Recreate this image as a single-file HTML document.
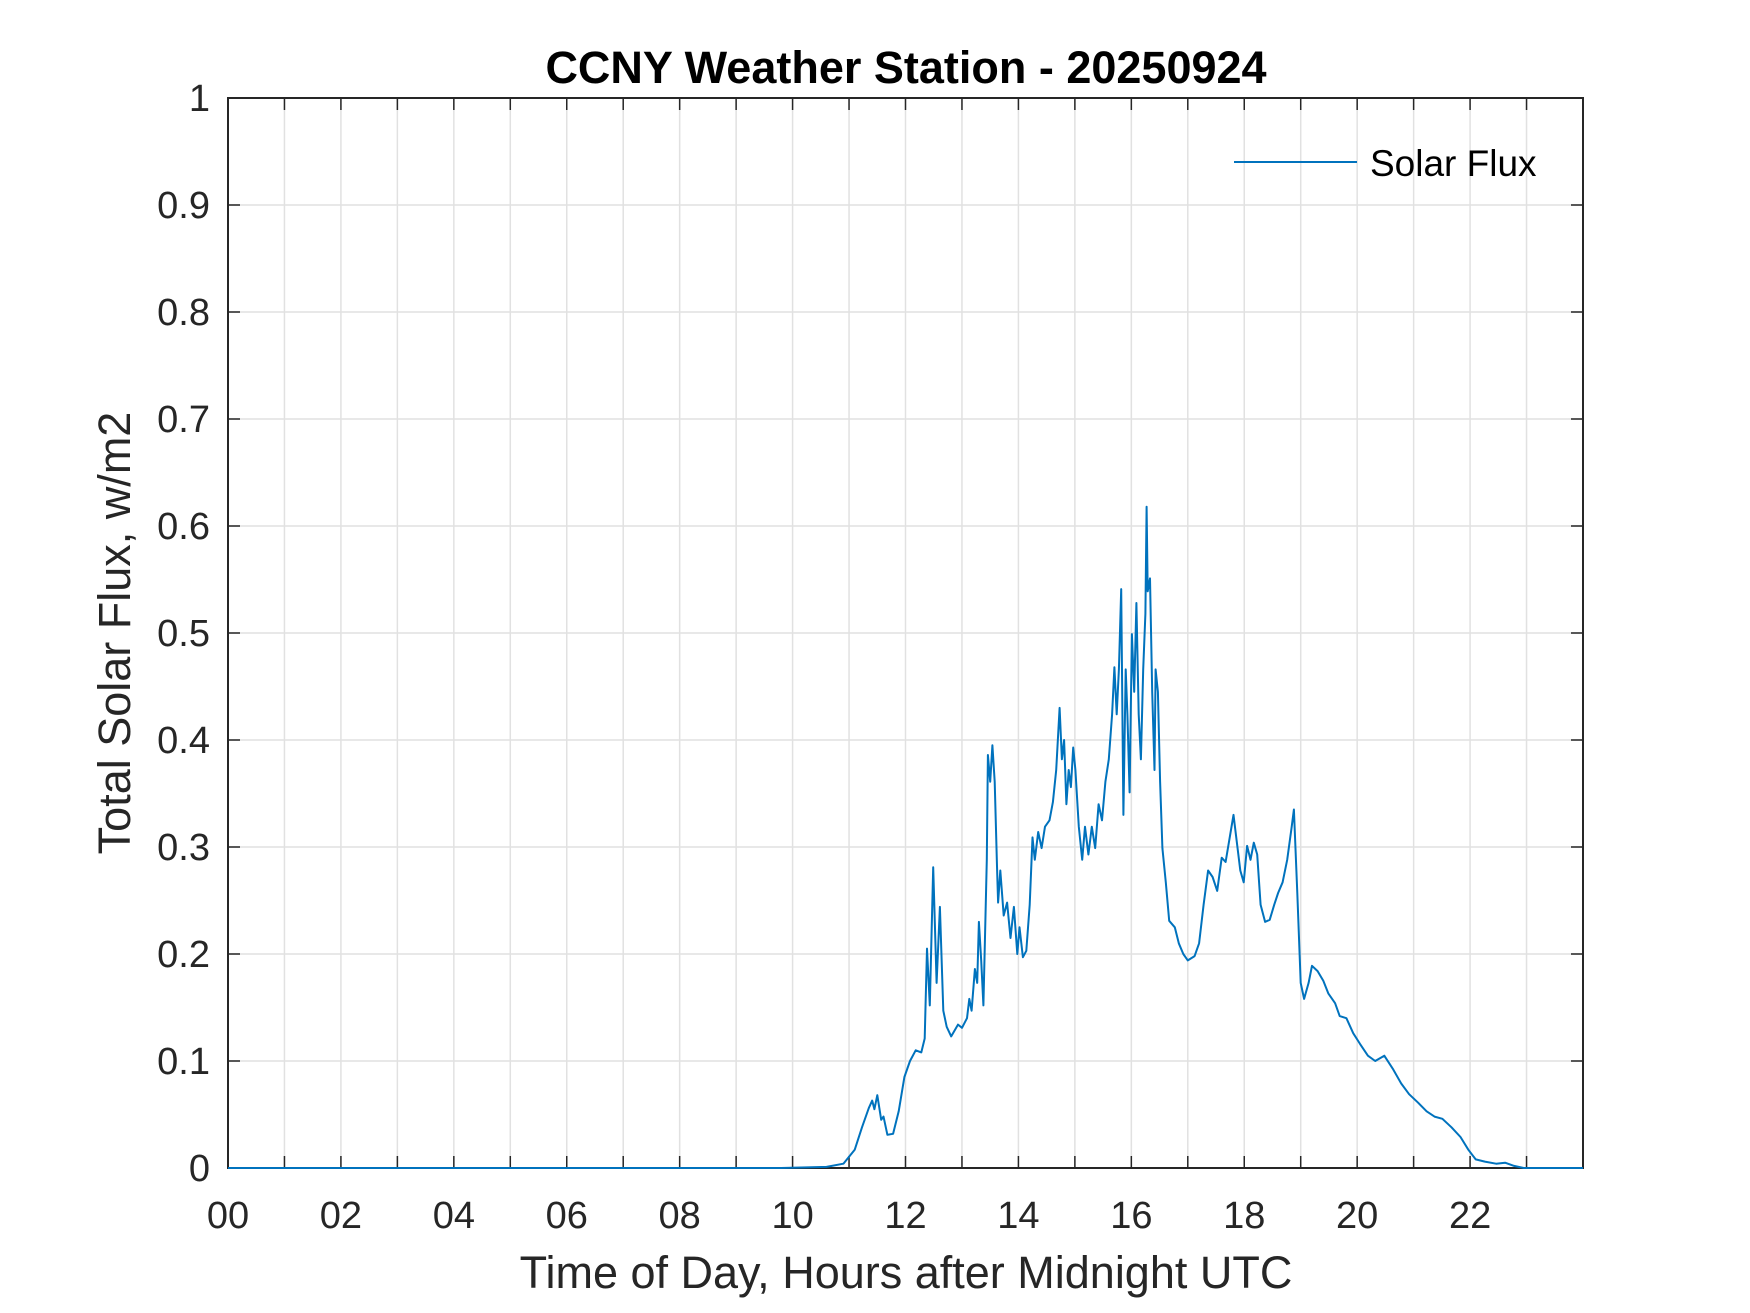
<!DOCTYPE html>
<html><head><meta charset="utf-8"><style>
html,body{margin:0;padding:0;background:#fff;}
svg{display:block;font-family:"Liberation Sans",Arial,sans-serif;}
</style></head>
<body>
<svg id="chart" width="1750" height="1313" xmlns="http://www.w3.org/2000/svg">
<rect width="1750" height="1313" fill="#fff"/>
<g id="grid"></g>
<g id="axes"></g>
<g id="series"></g>
<text x="906" y="83" text-anchor="middle" font-size="45" font-weight="bold" fill="#000">CCNY Weather Station - 20250924</text>
<text x="906" y="1288" text-anchor="middle" font-size="45" fill="#262626">Time of Day, Hours after Midnight UTC</text>
<text transform="translate(130,633) rotate(-90)" text-anchor="middle" font-size="45" fill="#262626">Total Solar Flux, w/m2</text>
<g>
<line x1="1234" y1="162" x2="1357" y2="162" stroke="#0072BD" stroke-width="2"/>
<text x="1370" y="176" font-size="37" fill="#000">Solar Flux</text>
</g>
</svg>
<script>
const hours = [0,9.8,10.6,10.9,11.1,11.23,11.35,11.41,11.45,11.5,11.57,11.61,11.68,11.78,11.88,11.98,12.08,12.18,12.28,12.34,12.38,12.43,12.49,12.55,12.61,12.67,12.73,12.81,12.93,13.0,13.09,13.13,13.17,13.23,13.27,13.3,13.34,13.38,13.44,13.46,13.5,13.54,13.58,13.62,13.64,13.68,13.74,13.8,13.86,13.92,13.98,14.02,14.08,14.14,14.2,14.25,14.29,14.35,14.41,14.47,14.55,14.61,14.67,14.73,14.77,14.81,14.85,14.89,14.93,14.97,15.01,15.07,15.13,15.18,15.24,15.3,15.36,15.42,15.48,15.54,15.6,15.66,15.7,15.74,15.78,15.82,15.86,15.9,15.93,15.97,16.01,16.05,16.09,16.13,16.17,16.21,16.25,16.27,16.29,16.33,16.37,16.41,16.43,16.47,16.51,16.55,16.61,16.67,16.77,16.84,16.92,17.0,17.12,17.2,17.28,17.36,17.44,17.52,17.6,17.67,17.75,17.81,17.87,17.93,17.99,18.05,18.11,18.17,18.23,18.29,18.37,18.45,18.53,18.6,18.68,18.76,18.84,18.88,18.94,19.0,19.06,19.14,19.2,19.3,19.4,19.49,19.61,19.69,19.81,19.93,20.05,20.19,20.32,20.48,20.64,20.78,20.92,21.08,21.23,21.37,21.51,21.67,21.83,21.97,22.1,22.26,22.46,22.62,22.78,22.95,24];
const flux = [0,0,0.001,0.004,0.017,0.038,0.056,0.063,0.055,0.068,0.045,0.048,0.031,0.032,0.053,0.085,0.1,0.11,0.108,0.121,0.205,0.152,0.281,0.173,0.244,0.147,0.132,0.123,0.134,0.131,0.14,0.158,0.147,0.186,0.173,0.23,0.194,0.152,0.288,0.386,0.361,0.395,0.361,0.282,0.248,0.278,0.236,0.248,0.215,0.244,0.2,0.225,0.197,0.203,0.246,0.309,0.288,0.314,0.299,0.319,0.325,0.342,0.372,0.43,0.382,0.4,0.34,0.372,0.356,0.393,0.372,0.319,0.288,0.319,0.293,0.319,0.299,0.34,0.325,0.361,0.382,0.424,0.468,0.424,0.466,0.541,0.33,0.466,0.424,0.351,0.499,0.445,0.528,0.424,0.382,0.466,0.518,0.618,0.539,0.551,0.445,0.372,0.466,0.445,0.361,0.299,0.267,0.231,0.225,0.21,0.2,0.194,0.198,0.21,0.246,0.278,0.272,0.259,0.29,0.286,0.311,0.33,0.304,0.278,0.267,0.301,0.288,0.304,0.293,0.246,0.23,0.232,0.246,0.257,0.267,0.288,0.319,0.335,0.257,0.173,0.158,0.173,0.189,0.184,0.175,0.163,0.154,0.142,0.14,0.126,0.116,0.105,0.1,0.105,0.092,0.079,0.069,0.061,0.053,0.048,0.046,0.038,0.029,0.017,0.008,0.006,0.004,0.005,0.002,0,0];
const xTickLabels = ["00","02","04","06","08","10","12","14","16","18","20","22"];
const yTickLabels = ["0","0.1","0.2","0.3","0.4","0.5","0.6","0.7","0.8","0.9","1"];

const L=228,R=1583,T=98,B=1168;
const xMin=0,xMax=24,yMin=0,yMax=1;
function sx(h){return L+(h-xMin)/(xMax-xMin)*(R-L);}
function sy(v){return B-(v-yMin)/(yMax-yMin)*(B-T);}
const NS="http://www.w3.org/2000/svg";
function mk(tag,attrs,parent){const e=document.createElementNS(NS,tag);for(const k in attrs)e.setAttribute(k,attrs[k]);parent.appendChild(e);return e;}
const grid=document.getElementById('grid'),axes=document.getElementById('axes'),series=document.getElementById('series');

for(let h=1;h<24;h++){
  const x=sx(h);
  const g=mk('line',{x1:x,y1:T,x2:x,y2:B,stroke:'#e1e1e1','stroke-width':1.5},grid);
  
  
  const t1=mk('line',{x1:x,y1:B,x2:x,y2:B-12,stroke:'#262626','stroke-width':1.5},axes);
  
  
  const t2=mk('line',{x1:x,y1:T,x2:x,y2:T+12,stroke:'#262626','stroke-width':1.5},axes);
  
  
}
xTickLabels.forEach((lab,i)=>{
  const t=mk('text',{x:sx(i*2),y:1228,'text-anchor':'middle','font-size':38,fill:'#262626'},axes);
  t.textContent=lab;
  
  
});
yTickLabels.forEach((lab,i)=>{
  const v=i/10,y=sy(v);
  if(i>0&&i<10){
    const g=mk('line',{x1:L,y1:y,x2:R,y2:y,stroke:'#e1e1e1','stroke-width':1.5},grid);
    
    
    const t1=mk('line',{x1:L,y1:y,x2:L+12,y2:y,stroke:'#262626','stroke-width':1.5},axes);
    
    
    const t2=mk('line',{x1:R,y1:y,x2:R-12,y2:y,stroke:'#262626','stroke-width':1.5},axes);
    
    
  }
  const t=mk('text',{x:210,y:y+13,'text-anchor':'end','font-size':38,fill:'#262626'},axes);
  t.textContent=lab;
  
  
});
const box=mk('rect',{x:L,y:T,width:R-L,height:B-T,fill:'none',stroke:'#262626','stroke-width':2},axes);



const pts=hours.map((h,i)=>sx(h).toFixed(1)+','+sy(flux[i]).toFixed(1)).join(' ');
const line=mk('polyline',{points:pts,fill:'none',stroke:'#0072BD','stroke-width':2,'stroke-linejoin':'round'},series);


</script>
</body></html>
